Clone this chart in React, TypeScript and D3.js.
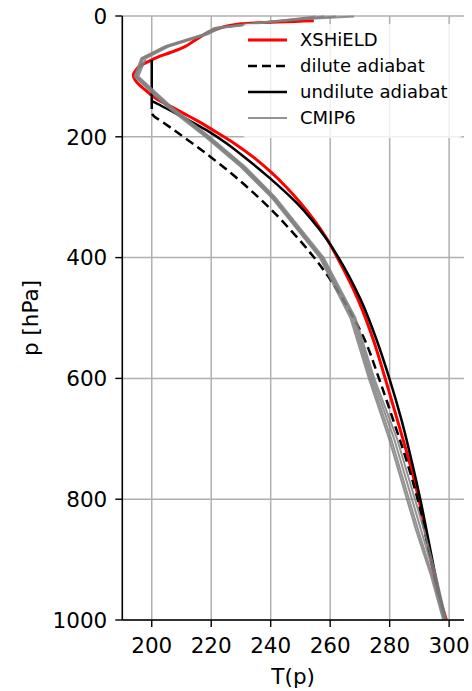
import React from "react";
import * as d3 from "d3";

// ---- data (p in hPa, T in K) ----
const redP = [8, 13, 23, 37, 51, 60, 68, 75, 82, 90, 98, 106, 115, 122, 130, 139, 150, 160, 172, 189, 211, 235, 259, 283, 307, 338, 365, 400, 470, 536, 600, 669, 741, 800, 823, 912, 961, 1000];
const redT = [254.5, 230, 221, 215.5, 211, 206.5, 202, 199, 196.3, 194.6, 193.8, 194.4, 196, 197.7, 199.6, 202.2, 206.5, 210.2, 214.8, 220.6, 227.8, 234.5, 240.2, 245.2, 249.6, 254.6, 258.4, 262.4, 269.4, 274.5, 278.5, 282.6, 286.8, 289.8, 290.8, 294.4, 296.7, 299.1];

const undiluteP = [73, 139, 147, 160, 172, 189, 211, 233, 268, 310, 338, 370, 400, 470, 536, 600, 669, 741, 800, 879, 934, 1000];
const undiluteT = [200, 200, 202.6, 207.6, 212.2, 218.4, 225.2, 231.0, 239.6, 248.8, 253.9, 258.9, 262.8, 270.3, 275.6, 279.9, 284.0, 287.6, 290.3, 293.5, 295.7, 298.7];

const diluteP = [139, 160, 166, 175, 202, 233, 260, 299, 327, 354, 376, 400, 429, 470, 536, 600, 669, 741, 800, 895, 1000];
const diluteT = [200, 200, 200.8, 203.5, 211.2, 219.7, 226.6, 235.6, 241.5, 246.6, 250.6, 254.6, 259.0, 264.4, 271.6, 276.4, 281.2, 286.0, 289.4, 293.6, 298.7];

const cmipP = [1000, 925, 850, 700, 600, 500, 400, 300, 250, 200, 150, 100, 70, 50, 30, 20, 10, 5, 1];
const cmipA = [299.0, 295.5, 291.5, 282.5, 274.8, 268.5, 257.8, 241.5, 231.5, 219.5, 206.5, 195.5, 198.0, 206.0, 219.0, 223.0, 240.0, 252.0, 268.0];
const cmipB = [298.6, 295.0, 290.5, 281.5, 274.2, 268.0, 257.3, 241.0, 231.0, 219.0, 206.0, 195.0, 197.2, 205.5, 218.5, 222.0, 239.5, 250.0, 262.0];
const cmipC = [298.3, 294.3, 289.5, 280.5, 273.6, 267.4, 256.9, 240.6, 230.5, 218.5, 205.5, 194.6, 196.8, 205.0, 218.0, 221.5, 239.0, 249.0, 258.0];
const cmipD = [298.0, 293.8, 288.8, 279.8, 273.0, 266.8, 256.5, 240.2, 230.0, 218.0, 205.0, 194.2, 196.5, 204.5, 217.5, 221.0, 238.5, 248.0, 255.0];
const cmipSeries = [cmipA, cmipB, cmipC, cmipD];

const xTicks = [200, 220, 240, 260, 280, 300];
const yTicks = [0, 200, 400, 600, 800, 1000];
const legendLabels = ["XSHiELD", "dilute adiabat", "undilute adiabat", "CMIP6"];

export default function App() {
  const W = 472, H = 691;
  const left = 122.3, right = 464, top = 16, bottom = 620;
  const x = d3.scaleLinear().domain([190.1, 305]).range([left, right]);
  const y = d3.scaleLinear().domain([0, 1000]).range([top, bottom]);

  const smooth = d3.line<[number, number]>().x(d => x(d[1])).y(d => y(d[0])).curve(d3.curveMonotoneY);
  const straight = d3.line<[number, number]>().x(d => x(d[1])).y(d => y(d[0]));
  const zip = (ps: number[], ts: number[]) => ps.map((p, i) => [p, ts[i]] as [number, number]);

  const font = "DejaVu Sans, sans-serif";
  const legendRows = [40, 66, 92, 118];

  return (
    <svg width={W} height={H} style={{ position: "absolute", left: 0, top: 0 }} fontFamily={font}>
      <rect x={0} y={0} width={W} height={H} fill="white" />
      {/* grid */}
      {xTicks.map(t => (
        <line key={"gx" + t} x1={x(t)} x2={x(t)} y1={top} y2={bottom} stroke="#b0b0b0" strokeWidth={1.5} />
      ))}
      {yTicks.map(t => (
        <line key={"gy" + t} x1={left} x2={right} y1={y(t)} y2={y(t)} stroke="#b0b0b0" strokeWidth={1.5} />
      ))}
      {/* series */}
      <path d={smooth(zip(redP, redT)) || ""} fill="none" stroke="#ff0000" strokeWidth={3} />
      <path d={smooth(zip(diluteP, diluteT)) || ""} fill="none" stroke="#000" strokeWidth={2.5} strokeDasharray="9,5" />
      <path d={smooth(zip(undiluteP, undiluteT)) || ""} fill="none" stroke="#000" strokeWidth={2.5} />
      {cmipSeries.map((s, i) => (
        <path key={"c" + i} d={straight(zip(cmipP, s)) || ""} fill="none" stroke="#808080" strokeWidth={2} strokeOpacity={0.85} />
      ))}
      {/* spines */}
      <line x1={left} x2={left} y1={top} y2={bottom} stroke="#000" strokeWidth={1.6} />
      <line x1={left} x2={right} y1={bottom} y2={bottom} stroke="#000" strokeWidth={1.6} />
      {yTicks.map(t => (
        <g key={"yt" + t}>
          <line x1={left - 7} x2={left} y1={y(t)} y2={y(t)} stroke="#000" strokeWidth={1.4} />
          <text x={left - 15} y={y(t)} dy="0.36em" textAnchor="end" fontSize={21.5} fill="#000">{t}</text>
        </g>
      ))}
      {xTicks.map(t => (
        <g key={"xt" + t}>
          <line x1={x(t)} x2={x(t)} y1={bottom} y2={bottom + 7} stroke="#000" strokeWidth={1.4} />
          <text x={x(t)} y={653} textAnchor="middle" fontSize={21.5} fill="#000">{t}</text>
        </g>
      ))}
      <text x={(left + right) / 2} y={684} textAnchor="middle" fontSize={21.5} fill="#000">T(p)</text>
      <text transform={`translate(38,${(top + bottom) / 2}) rotate(-90)`} textAnchor="middle" fontSize={21.5} fill="#000">p [hPa]</text>
      {/* legend */}
      <rect x={243} y={24} width={219} height={114} rx={4} fill="white" fillOpacity={0.8} />
      <line x1={248} x2={287} y1={legendRows[0]} y2={legendRows[0]} stroke="#ff0000" strokeWidth={3} />
      <line x1={248} x2={287} y1={legendRows[1]} y2={legendRows[1]} stroke="#000" strokeWidth={2.5} strokeDasharray="9,5" />
      <line x1={248} x2={287} y1={legendRows[2]} y2={legendRows[2]} stroke="#000" strokeWidth={2.5} />
      <line x1={248} x2={287} y1={legendRows[3]} y2={legendRows[3]} stroke="#808080" strokeWidth={2} strokeOpacity={0.85} />
      {legendLabels.map((l, i) => (
        <text key={l} x={300} y={legendRows[i]} dy="0.36em" fontSize={18} fill="#000">{l}</text>
      ))}
    </svg>
  );
}
